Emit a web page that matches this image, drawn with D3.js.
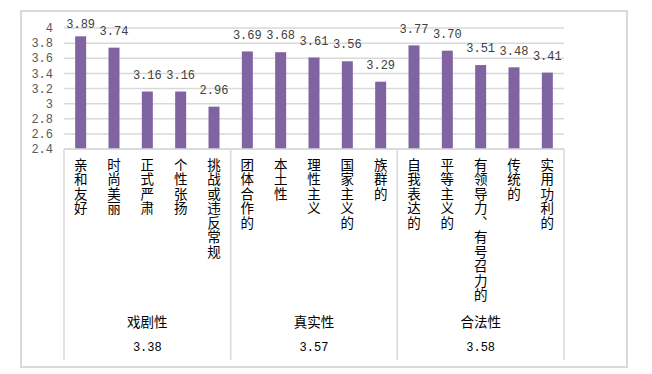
<!DOCTYPE html>
<html>
<head>
<meta charset="utf-8">
<script src="https://cdn.jsdelivr.net/npm/d3@7"></script>
<style>
  body { margin: 0; background: #fff; }
  svg { display: block; }
  .num { font-family: "Liberation Mono", "DejaVu Sans Mono", monospace; font-size: 12px; fill: #404040; }
  .cjk { font-family: "Noto Sans CJK SC", sans-serif; font-size: 13.5px; fill: #000; }
</style>
</head>
<body>
<svg id="chart" width="652" height="374"></svg>
<script>
// data
var groups = ["戏剧性", "真实性", "合法性"];
var groupMeans = [3.38, 3.57, 3.58];
var categories = [
  "亲和友好", "时尚美丽", "正式严肃", "个性张扬", "挑战或违反常规",
  "团体合作的", "本土性", "理性主义", "国家主义的", "族群的",
  "自我表达的", "平等主义的", "有领导力、有号召力的", "传统的", "实用功利的"
];
var values = [3.89, 3.74, 3.16, 3.16, 2.96, 3.69, 3.68, 3.61, 3.56, 3.29, 3.77, 3.70, 3.51, 3.48, 3.41];
var yTicks = [2.4, 2.6, 2.8, 3, 3.2, 3.4, 3.6, 3.8, 4];

var svg = d3.select("#chart");

// outer frame
svg.append("rect")
    .attr("x", 21).attr("y", 11)
    .attr("width", 606).attr("height", 356)
    .attr("fill", "#fff")
    .attr("stroke", "#d9d9d9")
    .attr("stroke-width", 2);

var plotLeft = 64, plotRight = 564, plotTop = 28, plotBottom = 149, catBottom = 360;

var x = d3.scaleBand().domain(d3.range(categories.length)).range([plotLeft, plotRight]).paddingInner(0.67).paddingOuter(0.335);
var xg = d3.scaleBand().domain(d3.range(groups.length)).range([plotLeft, plotRight]);
var y = d3.scaleLinear().domain([2.4, 4]).range([plotBottom, plotTop]);

// gridlines
svg.append("g").selectAll("line")
    .data(yTicks)
    .enter().append("line")
    .attr("x1", plotLeft).attr("x2", plotRight)
    .attr("y1", function (d) { return y(d); })
    .attr("y2", function (d) { return y(d); })
    .attr("stroke", "#d9d9d9")
    .attr("stroke-width", 1.5);

// y axis labels
svg.append("g").selectAll("text")
    .data(yTicks)
    .enter().append("text")
    .attr("class", "num")
    .attr("x", 53)
    .attr("y", function (d) { return y(d); })
    .attr("dy", "0.35em")
    .attr("text-anchor", "end")
    .style("fill", "#595959")
    .text(function (d) { return d; });

// bars
svg.append("g").selectAll("rect")
    .data(values)
    .enter().append("rect")
    .attr("x", function (d, i) { return x(i); })
    .attr("width", x.bandwidth())
    .attr("y", function (d) { return y(d); })
    .attr("height", function (d) { return plotBottom - y(d); })
    .attr("fill", "#8064a2");

// value labels (kept inside the frame near the top)
svg.append("g").selectAll("text")
    .data(values)
    .enter().append("text")
    .attr("class", "num")
    .attr("x", function (d, i) { return x(i) + x.bandwidth() / 2; })
    .attr("y", function (d) { return Math.max(y(d) - 17, 24); })
    .attr("dy", "0.35em")
    .attr("text-anchor", "middle")
    .text(function (d) { return d.toFixed(2); });

// category axis box lines
svg.append("line")
    .attr("x1", plotLeft).attr("x2", plotRight)
    .attr("y1", plotBottom).attr("y2", plotBottom)
    .attr("stroke", "#d9d9d9").attr("stroke-width", 1.5);

var seps = [0, 1, 2].map(function (i) { return xg(i); }).concat([plotRight]);
svg.append("g").selectAll("line")
    .data(seps)
    .enter().append("line")
    .attr("x1", function (d) { return d; })
    .attr("x2", function (d) { return d; })
    .attr("y1", plotBottom).attr("y2", catBottom)
    .attr("stroke", "#d9d9d9")
    .attr("stroke-width", 1.5);

// vertical category labels
svg.append("g").selectAll("text")
    .data(categories)
    .enter().append("text")
    .attr("class", "cjk")
    .attr("writing-mode", "vertical-rl")
    .style("letter-spacing", "1px")
    .attr("x", function (d, i) { return x(i) + x.bandwidth() / 2; })
    .attr("y", 158)
    .text(function (d) { return d; });

// group labels
svg.append("g").selectAll("text")
    .data(groups)
    .enter().append("text")
    .attr("class", "cjk")
    .attr("x", function (d, i) { return xg(i) + xg.bandwidth() / 2; })
    .attr("y", 322)
    .attr("dy", "0.35em")
    .attr("text-anchor", "middle")
    .text(function (d) { return d; });

svg.append("g").selectAll("text")
    .data(groupMeans)
    .enter().append("text")
    .attr("class", "num")
    .style("fill", "#000")
    .attr("x", function (d, i) { return xg(i) + xg.bandwidth() / 2; })
    .attr("y", 347)
    .attr("dy", "0.35em")
    .attr("text-anchor", "middle")
    .text(function (d) { return d.toFixed(2); });
</script>
</body>
</html>
